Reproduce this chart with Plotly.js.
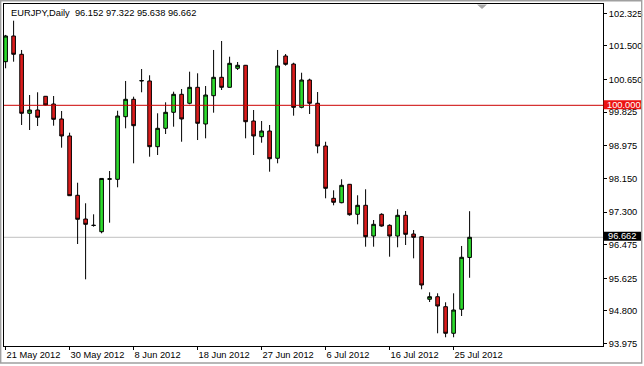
<!DOCTYPE html>
<html>
<head>
<meta charset="utf-8">
<script src="https://cdn.plot.ly/plotly-3.0.1.min.js"></script>
<style>
  html, body { margin: 0; padding: 0; background: #ffffff; }
  #chart { width: 644px; height: 366px; }
</style>
</head>
<body>
<div id="chart"></div>
<script>
// ---- data ----
const symbol = 'EURJPY,Daily';
const dates = ['2012-05-21','2012-05-22','2012-05-23','2012-05-24','2012-05-25','2012-05-27','2012-05-28','2012-05-29','2012-05-30','2012-05-31',
  '2012-06-01','2012-06-03','2012-06-04','2012-06-05','2012-06-06','2012-06-07','2012-06-08','2012-06-10','2012-06-11','2012-06-12',
  '2012-06-13','2012-06-14','2012-06-15','2012-06-17','2012-06-18','2012-06-19','2012-06-20','2012-06-21','2012-06-22','2012-06-24',
  '2012-06-25','2012-06-26','2012-06-27','2012-06-28','2012-06-29','2012-07-01','2012-07-02','2012-07-03','2012-07-04','2012-07-05',
  '2012-07-06','2012-07-08','2012-07-09','2012-07-10','2012-07-11','2012-07-12','2012-07-13','2012-07-15','2012-07-16','2012-07-17',
  '2012-07-18','2012-07-19','2012-07-20','2012-07-22','2012-07-23','2012-07-24','2012-07-25','2012-07-26','2012-07-27'];
const openP = [101.103,101.753,101.290,99.798,99.881,100.228,100.033,99.654,99.224,97.724,
  97.124,96.960,96.803,98.130,98.128,99.712,100.152,100.615,100.615,98.953,
  99.418,99.823,100.278,100.051,100.455,99.527,100.243,100.708,100.455,100.936,
  101.012,99.603,99.206,99.350,98.660,101.247,101.044,99.949,100.640,100.051,
  98.971,97.648,97.537,98.002,97.243,97.471,96.694,97.243,96.965,96.694,
  97.218,96.745,96.677,95.094,95.159,94.907,94.234,94.841,96.152];
const highP = [101.780,102.140,101.399,100.260,100.329,100.235,100.235,99.856,99.307,98.042,
  97.522,97.243,98.154,98.338,99.863,100.615,100.218,100.918,100.759,99.798,
  100.076,100.344,100.412,100.850,100.809,100.488,101.399,101.626,101.229,101.095,
  101.020,99.881,99.603,99.502,101.399,101.297,101.077,100.824,100.673,100.336,
  99.079,97.850,98.129,98.010,97.724,97.876,97.099,97.269,96.990,97.370,
  97.327,96.846,96.694,95.270,95.245,95.018,95.245,96.442,97.322];
const lowP = [100.936,101.103,99.502,99.375,99.476,99.995,99.484,98.928,97.706,96.492,
  95.599,96.930,96.763,97.031,97.926,99.418,98.533,100.329,98.700,98.743,
  99.274,99.459,99.079,100.025,99.122,99.165,99.813,100.387,100.450,100.893,
  99.165,98.743,99.054,98.321,98.533,101.002,99.737,99.924,99.780,98.786,
  97.648,97.471,97.522,97.208,96.990,96.424,96.424,96.930,96.171,96.409,
  96.467,96.130,95.346,95.025,94.234,94.133,94.133,94.671,95.638];
const closeP = [101.753,101.290,99.798,99.881,99.697,100.008,99.646,99.224,97.714,97.117,
  96.990,96.965,98.150,98.140,99.729,100.152,99.484,100.625,98.953,99.418,
  99.823,100.278,99.654,100.455,99.545,100.260,100.708,100.455,101.062,101.012,
  99.585,99.224,99.350,98.649,100.994,101.037,99.949,100.640,100.051,98.971,
  97.901,97.547,97.977,97.233,97.471,96.677,96.990,96.947,96.694,97.218,
  96.737,96.662,95.455,95.159,94.924,94.234,94.823,96.156,96.662];
const tickDates = ['2012-05-21','2012-05-30','2012-06-08','2012-06-18','2012-06-27','2012-07-06','2012-07-16','2012-07-25'];
const tickLabels = ['21 May 2012','30 May 2012','8 Jun 2012','18 Jun 2012','27 Jun 2012','6 Jul 2012','16 Jul 2012','25 Jul 2012'];
const yTickVals = [93.975,94.800,95.625,96.475,97.300,98.150,98.975,99.825,100.650,101.500,102.325];
const yTickLabels = ['93.975','94.800','95.625','96.475','97.300','98.150','98.975','99.825','100.650','101.500','102.325'];
const levelLine = 100.000;

// ---- layout helpers (pixel -> paper) ----
const W = 644, H = 366;
const M = {l: 4, r: 41, t: 4, b: 20};
const pw = W - M.l - M.r, ph = H - M.t - M.b;
const px = x => (x - M.l) / pw;
const py = y => (H - M.b - y) / ph;

const FONT = 'Liberation Sans, Arial, sans-serif';
const FS = 9.3;
const last = closeP.length - 1;
const lastClose = closeP[last];
const header = symbol + '\u00a0\u00a0' + [openP[last], highP[last], lowP[last], closeP[last]].map(v => v.toFixed(3)).join(' ');

const trace = {
  type: 'candlestick',
  x: dates, open: openP, high: highP, low: lowP, close: closeP,
  increasing: {line: {color: '#000000', width: 1}, fillcolor: '#2ddc2d'},
  decreasing: {line: {color: '#000000', width: 1}, fillcolor: '#dc1c1c'},
  whiskerwidth: 0,
  hoverinfo: 'none',
  showlegend: false
};

const layout = {
  width: W, height: H,
  margin: M,
  paper_bgcolor: '#ffffff', plot_bgcolor: '#ffffff',
  font: {family: FONT, size: FS, color: '#000000'},
  showlegend: false,
  boxgap: 0.35, boxgroupgap: 0.3,
  xaxis: {
    type: 'category',
    range: [-0.2, 74.675], autorange: false,
    rangeslider: {visible: false},
    showgrid: false, zeroline: false,
    showline: true, mirror: true, linecolor: '#000000', linewidth: 1,
    ticks: 'outside', ticklen: 3, tickcolor: '#000000', tickwidth: 1,
    tickmode: 'array', tickvals: tickDates, ticktext: tickLabels,
    ticklabelposition: 'outside right',
    tickfont: {family: FONT, size: FS, color: '#000000'}
  },
  yaxis: {
    side: 'right',
    range: [93.9125, 102.562], autorange: false,
    showgrid: false, zeroline: false,
    showline: true, mirror: true, linecolor: '#000000', linewidth: 1,
    ticks: 'outside', ticklen: 3, tickcolor: '#000000', tickwidth: 1,
    tickmode: 'array', tickvals: yTickVals, ticktext: yTickLabels,
    tickfont: {family: FONT, size: FS, color: '#000000'}
  },
  shapes: [
    // bid line
    {type: 'line', xref: 'paper', x0: 0, x1: 1, yref: 'y', y0: lastClose, y1: lastClose,
     line: {color: '#c0c0c0', width: 1}, layer: 'below'},
    // horizontal level line
    {type: 'line', xref: 'paper', x0: 0, x1: 1, yref: 'y', y0: levelLine, y1: levelLine,
     line: {color: '#cc0000', width: 1}, layer: 'above'},
    // price label boxes
    {type: 'rect', xref: 'paper', x0: px(603.5), x1: px(641.5), yref: 'y', ysizemode: 'pixel',
     yanchor: levelLine, y0: -4, y1: 5, fillcolor: '#ec1212', line: {width: 0}, layer: 'above'},
    {type: 'rect', xref: 'paper', x0: px(603.5), x1: px(641), yref: 'y', ysizemode: 'pixel',
     yanchor: lastClose, y0: -3.5, y1: 5.5, fillcolor: '#000000', line: {width: 0}, layer: 'above'},
    // chart-shift marker
    {type: 'path', xref: 'paper', yref: 'paper',
     path: 'M ' + px(477) + ' ' + py(4.5) + ' L ' + px(487) + ' ' + py(4.5) + ' L ' + px(482) + ' ' + py(9) + ' Z',
     fillcolor: '#a8a8a8', line: {width: 0}, layer: 'above'},
    // window border
    {type: 'rect', xref: 'paper', yref: 'paper', x0: px(0.7), x1: px(641.7), y0: py(363), y1: py(0.7),
     line: {color: '#a0a0a0', width: 1.4}, fillcolor: 'rgba(0,0,0,0)', layer: 'above'}
  ],
  annotations: [
    {xref: 'paper', yref: 'paper', x: px(8.5), y: py(13), xanchor: 'left', yanchor: 'middle',
     text: header, showarrow: false, font: {family: FONT, size: FS, color: '#000000'}},
    {xref: 'paper', yref: 'y', x: px(605), y: levelLine, xanchor: 'left', yanchor: 'middle', yshift: 0.5,
     text: levelLine.toFixed(3), showarrow: false, font: {family: FONT, size: FS, color: '#ffffff'}},
    {xref: 'paper', yref: 'y', x: px(606), y: lastClose, xanchor: 'left', yanchor: 'middle', yshift: 1,
     text: lastClose.toFixed(3), showarrow: false, font: {family: FONT, size: FS, color: '#ffffff'}}
  ]
};

Plotly.newPlot('chart', [trace], layout, {staticPlot: true, displayModeBar: false});
</script>
</body>
</html>
